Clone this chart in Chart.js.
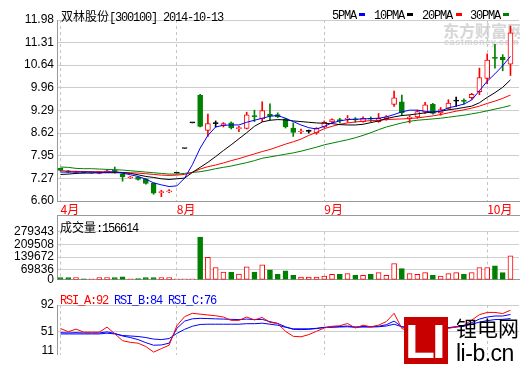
<!DOCTYPE html>
<html>
<head>
<meta charset="utf-8">
<script src="https://cdn.jsdelivr.net/npm/chart.js@4.4.1/dist/chart.umd.min.js"></script>
<style>
    body { margin: 0; background: #fff; }
    #wrap { position: relative; width: 520px; height: 365px; overflow: hidden; background: #fff; }
    canvas { position: absolute; left: 0; }
    .t { position: absolute; white-space: nowrap; font-size: 12px; line-height: 12px; color: #000; }
    .mono { font-family: "Liberation Mono", monospace; letter-spacing: -1.2px; }
    .cjk { font-family: "Noto Sans CJK SC", sans-serif; letter-spacing: 0; }
    .box { position: absolute; }
</style>
</head>
<body>
<div id="wrap">
    <!-- watermark behind the chart -->
    <div class="t cjk" style="left:443px;top:22px;font-size:16px;line-height:16px;font-weight:bold;color:#d6d6d6;">东方财富网</div>
    <div class="t" style="left:444px;top:38px;font-size:9px;line-height:9px;font-weight:bold;color:#d6d6d6;font-family:'Liberation Sans';letter-spacing:0.6px;">eastmoney.com</div>

    <canvas id="mainChart" width="520" height="216" style="top:0px"></canvas>
    <canvas id="volChart" width="520" height="90" style="top:200px"></canvas>
    <canvas id="rsiChart" width="520" height="75" style="top:290px"></canvas>

    <!-- title + legend -->
    <div class="t mono" style="left:61px;top:10px;"><span class="cjk">双林股份</span>[300100] 2014-10-13</div>
    <div class="t mono" style="left:332px;top:10px;">5PMA</div>
    <div class="box" style="left:359px;top:13px;width:6px;height:3px;background:#0000ff;"></div>
    <div class="t mono" style="left:374px;top:10px;">10PMA</div>
    <div class="box" style="left:407px;top:13px;width:6px;height:3px;background:#000000;"></div>
    <div class="t mono" style="left:422px;top:10px;">20PMA</div>
    <div class="box" style="left:456px;top:13px;width:6px;height:3px;background:#ff0000;"></div>
    <div class="t mono" style="left:470px;top:10px;">30PMA</div>
    <div class="box" style="left:503px;top:13px;width:6px;height:3px;background:#008000;"></div>

    <!-- volume panel frame + header -->
    <div class="box" style="left:57px;top:215px;width:463px;height:1px;background:#999;"></div>
    <div class="box" style="left:57px;top:215px;width:1px;height:17px;background:#999;"></div>
    <div class="t mono" style="left:60px;top:221px;"><span class="cjk">成交量</span>:156614</div>

    <!-- rsi header -->
    <div class="t mono" style="left:60px;top:295px;"><span style="color:#ff0000">RSI_A:92</span> <span style="color:#0000ff">RSI_B:84</span> <span style="color:#0000ff">RSI_C:76</span></div>

    <!-- li-b.cn logo -->
    <div class="box" style="left:404px;top:317px;width:44px;height:47px;background:#c80000;"></div>
    <div class="t" style="left:405px;top:317px;font-family:'Liberation Sans';font-weight:bold;font-size:49px;line-height:49px;color:#fff;letter-spacing:-3px;">LI</div>
    <div class="t cjk" style="left:456px;top:316px;font-size:21px;line-height:22px;">锂电网</div>
    <div class="t" style="left:456px;top:342px;font-family:'Liberation Sans';font-size:23px;line-height:23px;letter-spacing:-0.5px;">li-b.cn</div>
</div>

<script>
    // axis labels
    var monthLabels = ['4月', '8月', '9月', '10月'];
    var monthIndex = [0, 15, 34, 55];
    var priceTicks = [6.60, 7.27, 7.95, 8.62, 9.29, 9.96, 10.64, 11.31, 11.98];
    var volTickLabels = ['0', '69836', '139672', '209508', '279343'];
    var rsiTickLabels = ['11', '51', '92'];

    // daily candles (2014-04 .. 2014-10-13)
    var opens = [7.57, 7.49, 7.45, 7.47, 7.44, 7.42, 7.47, 7.52, 7.41, 7.29,
        7.30, 7.26, 7.13, 6.85, 6.87, 7.43, 8.16, 8.92, 9.74, 8.70,
        8.90, 8.85, 8.92, 8.75, 8.76, 9.13, 9.04, 9.18, 9.17, 9.04,
        8.77, 8.65, 8.67, 8.62, 8.80, 8.95, 9.01, 9.03, 9.03, 8.96,
        9.05, 8.96, 9.04, 9.47, 9.55, 9.05, 9.10, 9.24, 9.47, 9.22,
        9.35, 9.57, 9.58, 9.67, 9.85, 10.24, 10.87, 10.87, 10.67];
    var highs = [7.58, 7.51, 7.49, 7.48, 7.47, 7.48, 7.53, 7.61, 7.43, 7.33,
        7.31, 7.27, 7.14, 6.92, 6.94, 7.43, 8.16, 8.92, 9.77, 9.18,
        8.98, 8.93, 8.95, 8.82, 9.24, 9.30, 9.55, 9.49, 9.22, 9.06,
        8.92, 8.74, 8.71, 8.78, 8.98, 9.04, 9.06, 9.14, 9.08, 9.10,
        9.10, 9.20, 9.14, 9.87, 9.75, 9.14, 9.30, 9.53, 9.50, 9.38,
        9.61, 9.69, 9.64, 9.80, 10.55, 10.97, 11.26, 10.95, 11.80];
    var lows = [7.49, 7.44, 7.43, 7.43, 7.42, 7.41, 7.46, 7.43, 7.19, 7.27,
        7.22, 7.10, 6.80, 6.73, 6.85, 7.43, 8.16, 8.92, 8.80, 8.52,
        8.80, 8.80, 8.74, 8.66, 8.74, 8.96, 8.96, 9.00, 9.08, 8.77,
        8.52, 8.60, 8.62, 8.58, 8.78, 8.93, 8.92, 8.94, 8.94, 8.94,
        8.96, 8.94, 9.00, 9.41, 9.14, 8.92, 9.06, 9.20, 9.18, 9.15,
        9.33, 9.41, 9.48, 9.62, 9.76, 10.08, 10.55, 10.47, 10.33];
    var closes = [7.51, 7.46, 7.47, 7.44, 7.46, 7.47, 7.50, 7.48, 7.32, 7.31,
        7.24, 7.12, 6.83, 6.87, 6.90, 7.43, 8.16, 8.92, 8.82, 8.90,
        8.90, 8.90, 8.77, 8.77, 9.16, 9.11, 9.29, 9.12, 9.10, 8.80,
        8.64, 8.67, 8.67, 8.76, 8.94, 9.02, 8.99, 9.05, 9.01, 9.06,
        9.03, 9.06, 9.10, 9.67, 9.22, 9.09, 9.26, 9.46, 9.20, 9.32,
        9.51, 9.57, 9.56, 9.77, 10.27, 10.79, 10.84, 10.79, 11.60];

    // moving averages
    var ma5 = [7.46, 7.46, 7.46, 7.46, 7.46, 7.45, 7.46, 7.47, 7.43, 7.38,
        7.33, 7.25, 7.14, 7.08, 7.03, 7.05, 7.28, 7.68, 8.17, 8.55,
        8.80, 8.85, 8.86, 8.86, 8.94, 9.00, 9.06, 9.12, 9.14, 9.06,
        8.96, 8.86, 8.78, 8.74, 8.82, 8.92, 8.98, 9.02, 9.03, 9.04,
        9.05, 9.06, 9.10, 9.17, 9.25, 9.30, 9.30, 9.27, 9.24, 9.27,
        9.37, 9.42, 9.48, 9.60, 9.88, 10.16, 10.38, 10.62, 10.90];
    var ma10 = [7.39, 7.40, 7.42, 7.43, 7.43, 7.44, 7.44, 7.44, 7.44, 7.42,
        7.38, 7.33, 7.30, 7.26, 7.24, 7.26, 7.28, 7.45, 7.60, 7.75,
        7.92, 8.10, 8.27, 8.45, 8.63, 8.82, 8.95, 9.00, 9.02, 9.01,
        8.98, 8.96, 8.94, 8.92, 8.91, 8.90, 8.87, 8.86, 8.86, 8.88,
        8.93, 8.98, 9.05, 9.10, 9.14, 9.16, 9.19, 9.22, 9.24, 9.27,
        9.31, 9.34, 9.38, 9.42, 9.52, 9.68, 9.82, 9.98, 10.20];
    var ma20 = [7.50, 7.49, 7.48, 7.48, 7.47, 7.47, 7.46, 7.46, 7.45, 7.44,
        7.43, 7.41, 7.39, 7.37, 7.36, 7.37, 7.39, 7.45, 7.55, 7.62,
        7.67, 7.73, 7.80, 7.86, 7.93, 8.00, 8.07, 8.13, 8.21, 8.29,
        8.36, 8.44, 8.55, 8.64, 8.75, 8.82, 8.88, 8.92, 8.95, 8.97,
        8.99, 9.00, 9.02, 9.03, 9.04, 9.05, 9.07, 9.10, 9.13, 9.17,
        9.22, 9.27, 9.31, 9.36, 9.42, 9.50, 9.57, 9.65, 9.75];
    var ma30 = [7.61, 7.60, 7.57, 7.56, 7.56, 7.55, 7.54, 7.53, 7.52, 7.50,
        7.48, 7.46, 7.44, 7.42, 7.40, 7.40, 7.42, 7.45, 7.47, 7.51,
        7.56, 7.60, 7.64, 7.69, 7.74, 7.80, 7.87, 7.91, 7.95, 7.99,
        8.03, 8.08, 8.14, 8.20, 8.27, 8.32, 8.37, 8.42, 8.48, 8.55,
        8.63, 8.72, 8.80, 8.86, 8.92, 8.97, 9.00, 9.02, 9.04, 9.06,
        9.09, 9.12, 9.15, 9.19, 9.23, 9.28, 9.33, 9.38, 9.44];

    var volumes = [15000, 15000, 15000, 7000, 7000, 15000, 15000, 15000, 20000, 7000,
        8000, 15000, 15000, 15000, 15000, 2500, 2500, 2500, 279343, 146800,
        80300, 51000, 48200, 37100, 84200, 51000, 98000, 65400, 36000, 58200,
        28800, 17700, 17700, 17700, 24900, 36000, 36000, 39900, 28800, 28800,
        36000, 47100, 28800, 106400, 73100, 39900, 36000, 47100, 28800, 24900,
        39900, 47100, 36000, 47100, 80300, 80300, 91400, 47100, 156614];

    var rsiA = [56.7, 50.2, 55.5, 49.5, 49.5, 49.5, 59.3, 46.3, 32.8, 29.6,
        28, 21.5, 10.6, 17.4, 24, 62, 79.8, 86.3, 84.7, 83,
        81.5, 79, 72.5, 72.5, 79, 73.4, 78.2, 68.5, 66.4, 51.2,
        41.4, 40.4, 44.7, 51.2, 57.6, 60.9, 62, 66.4, 57.6, 63.1,
        59.9, 63.1, 70.1, 86.3, 56.7, 50.7, 45.8, 52.3, 45.8, 55.5,
        56.7, 59.9, 63.1, 72.9, 83.6, 88, 88, 85.8, 92.3];
    var rsiB = [48.5, 48, 48.5, 48, 48, 48, 50, 47, 42, 39,
        35, 29, 24, 24.5, 28, 57, 71, 75.5, 76.5, 76,
        75.5, 75, 74.5, 74, 75, 74, 74.5, 70, 66.5, 60,
        55, 54.5, 55, 56.5, 59, 60, 60.5, 61.5, 59.5, 60.5,
        60, 61, 64, 71, 60, 57, 55, 57, 55, 57,
        58, 60, 62, 68, 75, 79, 81, 81, 84];
    var rsiC = [46, 46, 46, 46, 46, 46, 47.5, 46, 43, 42,
        41, 39, 36, 35, 37, 47, 55, 61, 64.5, 65,
        65, 65, 65, 65, 66, 66, 67, 65, 63, 59,
        56, 56, 56, 57, 58.5, 59, 59.5, 60, 59, 59.5,
        59.5, 60, 61.5, 65, 60, 58.5, 57.5, 58, 57.5, 58,
        58.5, 59.5, 61, 65, 69, 72, 74, 74.5, 76];

    function pts(arr) {
        return arr.map(function (v, i) { return { x: i, y: v }; });
    }

    var dir = closes.map(function (c, i) { return c > opens[i] ? 1 : (c < opens[i] ? -1 : 0); });
    var candleColor = dir.map(function (d) { return d > 0 ? '#ff0000' : (d < 0 ? '#008000' : '#000000'); });
    var bodyFill = dir.map(function (d) { return d > 0 ? '#ffffff' : (d < 0 ? '#008000' : '#000000'); });
    var volColor = dir.map(function (d) { return d < 0 ? '#008000' : '#ff0000'; });
    var volFill = dir.map(function (d) { return d < 0 ? '#008000' : '#ffffff'; });

    var tickFont = { family: 'Liberation Sans', size: 12 };

    function xAxis(showLabels, showBorder, h) {
        return {
            type: 'linear',
            min: -0.45,
            max: 59.1,
            offset: false,
            afterBuildTicks: function (s) { s.ticks = monthIndex.map(function (v) { return { value: v }; }); },
            afterFit: function (s) { s.height = h; },
            grid: { color: '#c4c4c4', drawTicks: false, offset: false },
            border: { display: showBorder, color: '#999999', dash: [3, 3] },
            ticks: {
                display: showLabels,
                align: 'start',
                padding: 1,
                color: '#ff0000',
                autoSkip: false,
                maxRotation: 0,
                font: { family: 'Noto Sans CJK SC', size: 12 },
                callback: function (v, i) { return monthLabels[i]; }
            }
        };
    }

    function yAxis(min, max, tickValues, labelFn, gridColor) {
        return {
            min: min,
            max: max,
            afterBuildTicks: function (s) { s.ticks = tickValues.map(function (v) { return { value: v }; }); },
            afterFit: function (s) { s.width = 57; },
            grid: { color: gridColor, drawTicks: false },
            border: { color: '#999999' },
            ticks: { padding: 3, color: '#000000', autoSkip: false, font: tickFont, callback: labelFn }
        };
    }

    var base = {
        responsive: false,
        animation: false,
        devicePixelRatio: 1,
        plugins: { legend: { display: false }, tooltip: { enabled: false } }
    };

    function lineSet(arr, color, order) {
        return { type: 'line', data: pts(arr), borderColor: color, borderWidth: 1, pointRadius: 0, tension: 0, order: order };
    }

    // price panel
    new Chart(document.getElementById('mainChart'), {
        type: 'bar',
        data: {
            datasets: [
                lineSet(ma5, '#0000ff', 0),
                lineSet(ma10, '#000000', 1),
                lineSet(ma20, '#ff0000', 2),
                lineSet(ma30, '#008000', 3),
                {
                    type: 'bar',
                    data: opens.map(function (o, i) { return { x: i, y: [o, closes[i]] }; }),
                    backgroundColor: bodyFill,
                    borderColor: candleColor,
                    borderWidth: 1,
                    borderSkipped: false,
                    barThickness: 5,
                    minBarLength: 1,
                    grouped: false,
                    order: 5
                },
                {
                    type: 'bar',
                    data: lows.map(function (l, i) { return { x: i, y: [l, highs[i]] }; }),
                    backgroundColor: candleColor,
                    borderWidth: 0,
                    barThickness: 1,
                    grouped: false,
                    order: 6
                }
            ]
        },
        options: Object.assign({}, base, {
            layout: { padding: { top: 20, right: 1, left: 0, bottom: 0 } },
            scales: {
                x: xAxis(true, true, 15),
                y: yAxis(6.60, 11.98, priceTicks, function (v) { return v.toFixed(2); }, '#cccccc')
            }
        })
    });

    // volume panel
    new Chart(document.getElementById('volChart'), {
        type: 'bar',
        data: {
            datasets: [{
                data: volumes.map(function (v, i) { return { x: i, y: v }; }),
                backgroundColor: volFill,
                borderColor: volColor,
                borderWidth: 1,
                borderSkipped: false,
                barThickness: 5,
                minBarLength: 1
            }]
        },
        options: Object.assign({}, base, {
            layout: { padding: { top: 31.5, right: 1, left: 0, bottom: 0 } },
            scales: {
                x: xAxis(false, true, 1.5),
                y: yAxis(0, 315780, [0, 65370, 148470, 231570, 315780],
                    function (v, i) { return volTickLabels[i]; }, '#d0d0d0')
            }
        })
    });

    // RSI panel
    new Chart(document.getElementById('rsiChart'), {
        type: 'line',
        data: {
            datasets: [
                lineSet(rsiA, '#ff0000', 0),
                lineSet(rsiB, '#0000ff', 1),
                lineSet(rsiC, '#0000ff', 2)
            ]
        },
        options: Object.assign({}, base, {
            layout: { padding: { top: 15, right: 1, left: 0, bottom: 0 } },
            scales: {
                x: xAxis(false, false, 0),
                y: yAxis(5.3, 102.5, [13.5, 51, 102.5],
                    function (v, i) { return rsiTickLabels[i]; },
                    function (ctx) { return ctx.tick && ctx.tick.value < 20 ? 'rgba(0,0,0,0)' : '#cccccc'; })
            }
        })
    });
</script>
</body>
</html>
